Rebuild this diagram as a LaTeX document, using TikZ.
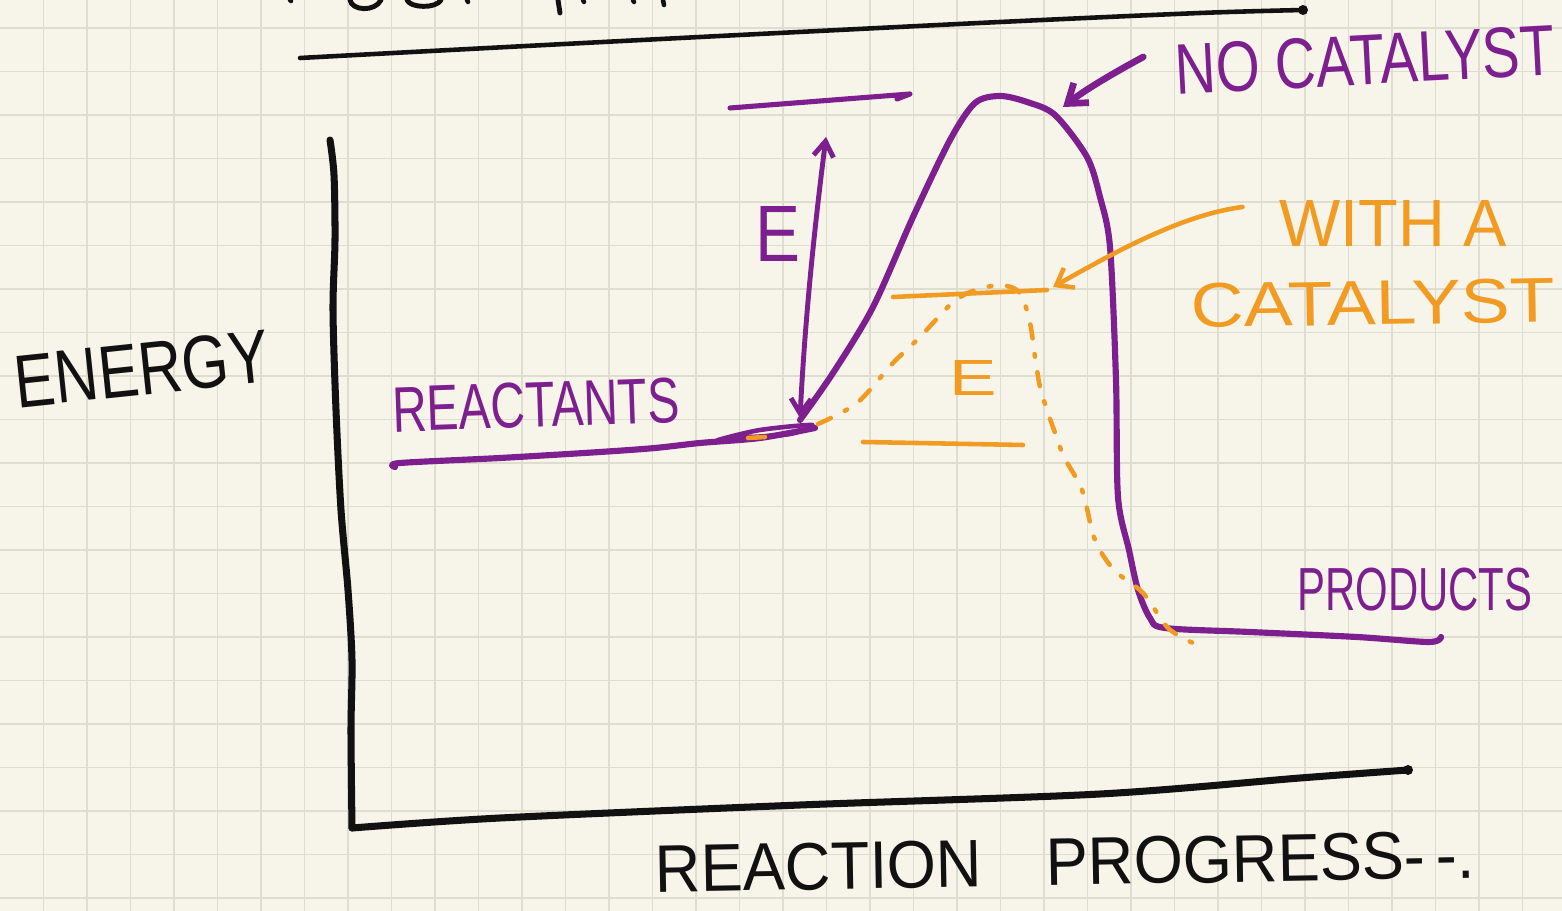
\documentclass[tikz,border=0pt]{standalone}
\usepackage{fontspec}
\setsansfont{Liberation Sans}
\usetikzlibrary{arrows.meta, positioning}
\definecolor{paper}{HTML}{F7F5E9}
\definecolor{gridline}{HTML}{DFDCD0}
\definecolor{ink}{HTML}{111111}
\definecolor{plum}{HTML}{7D1F8E}
\definecolor{amber}{HTML}{F29B22}
% hand lettering squeezed into the box the sketch gives it
\newcommand{\hand}[3]{\resizebox{#1}{#2}{\sffamily #3}}

\begin{document}
\begin{tikzpicture}[
    x=0.02cm, y=-0.02cm,
    lbl/.style={inner sep=0pt, outer sep=0pt},
    axis/.style={line width=4pt, color=ink, line cap=round, line join=round},
    pcurve/.style={line width=3.5pt, color=plum, line cap=round, line join=round},
    ocurve/.style={line width=2.6pt, color=amber, line cap=round, line join=round},
    odash/.style={ocurve, dash pattern=on 8pt off 9pt on 1.5pt off 9pt},
    parr/.style={pcurve, line width=3.8pt, -{Straight Barb[length=3.5mm, width=5mm]}},
    oarr/.style={ocurve, -{Straight Barb[length=3mm, width=4.5mm]}},
    ebar/.style={pcurve, line width=2.8pt, {Straight Barb[length=3mm, width=4mm]}-{Straight Barb[length=3mm, width=4mm]}}
]
    % paper
    \fill[paper] (0,0) rectangle (1562,911);
    \useasboundingbox (0,0) rectangle (1562,911);
    \foreach \gx in {43.5,87,...,1560}
        \draw[gridline, line width=0.6pt] (\gx,0) -- (\gx,911);
    \foreach \gy in {28,71.5,...,911}
        \draw[gridline, line width=0.6pt] (0,\gy) -- (1562,\gy);

    % title cut off at the top edge
    \draw[axis, line width=2.8pt] (350,0) .. controls (352,11) and (375,12) .. (381,0);
    \draw[axis, line width=2.8pt] (407,0) .. controls (410,8) and (436,9) .. (441,0);
    \draw[axis, line width=2.8pt] (558,0) -- (560,13);
    \foreach \dx/\dy in {290/1, 467/2, 583/2, 633/2, 663/5}
        \draw[axis, line width=2.6pt] (\dx,0) -- (\dx+1,\dy);
    \draw[axis, line width=2.6pt] plot[smooth] coordinates
        {(300,58) (450,50) (700,37) (1000,22) (1200,13) (1303,10)};
    \fill[ink] (1303,10) circle (5);

    % axes
    \draw[axis] plot[smooth] coordinates
        {(330,140) (334,175) (335,240) (333,310) (336,410) (341,510)
         (348,590) (352,660) (351,730) (352,828)};
    \draw[axis] plot[smooth] coordinates
        {(352,828) (500,818) (800,805) (1100,794) (1300,778) (1408,770)};
    \fill[ink] (1408,770) circle (5);

    \node[lbl, text=ink, rotate=6] (energy) at (142,369)
        {\hand{5.1cm}{1.05cm}{ENERGY}};
    \node[lbl, text=ink, rotate=1] (progress) at (1065,862)
        {\hand{16.4cm}{0.94cm}{REACTION\quad PROGRESS-\,-.}};

    % reactants and the uncatalysed hump
    \draw[pcurve] plot[smooth] coordinates
        {(395,467) (400,463) (500,458) (600,452) (655,448) (700,443)
         (760,438) (815,428)};
    \draw[pcurve, line width=2.6pt] plot[smooth cycle] coordinates
        {(718,440) (760,430) (812,425) (790,434) (735,438)};
    \draw[pcurve] plot[smooth] coordinates
        {(800,420) (833,373) (873,307) (913,217) (950,140) (975,103)
         (1000,96) (1027,102) (1055,115) (1087,157) (1100,197) (1110,247)
         (1116,380) (1118,497) (1129,550) (1138,590) (1150,618) (1165,628)
         (1250,632) (1357,637) (1429,642) (1441,637)};
    \node[lbl, text=plum, rotate=2] (reactants) at (536,405)
        {\hand{5.74cm}{0.9cm}{REACTANTS}};
    \node[lbl, text=plum] (products) at (1415,590)
        {\hand{4.7cm}{0.85cm}{PRODUCTS}};

    % activation energy without catalyst
    \draw[pcurve, line width=2.9pt] (730,108) -- (910,94) -- (897,99);
    \coordinate (ea-top) at (826,137);
    \coordinate (ea-bot) at (800,418);
    \draw[ebar] (ea-bot) .. controls (806,300) and (818,200) .. (ea-top);
    \node[lbl, text=plum] (ea) at (778,234) {\hand{0.9cm}{1.1cm}{E}};

    \node[lbl, text=plum, rotate=3] (nocat) at (1365,60)
        {\hand{7.6cm}{1.0cm}{NO CATALYST}};
    \coordinate (peak) at (1063,107);
    \draw[parr] ([xshift=-0.64cm, yshift=0.26cm]nocat.west)
        .. controls (1110,75) and (1085,90) .. (peak);

    % catalysed path
    \draw[ocurve] (748,438) -- (765,437);
    \draw[odash] plot[smooth] coordinates
        {(818,424) (857,403) (893,363) (920,337) (950,305) (970,292)
         (1000,285) (1020,293) (1030,323) (1035,357) (1040,387) (1047,410)
         (1054,430) (1064,457) (1082,490) (1095,540) (1114,570) (1143,593)
         (1168,628) (1193,643)};
    \draw[ocurve] (893,297) -- (1047,290);
    \draw[ocurve] (863,442) -- (1023,445);
    \node[lbl, text=amber] (ecat) at (973,378) {\hand{0.95cm}{0.7cm}{E}};

    \node[lbl, text=amber] (witha) at (1393,224)
        {\hand{4.54cm}{0.92cm}{WITH A}};
    \node[lbl, text=amber, rotate=1] (catalyst) at (1373,303)
        {\hand{7.26cm}{0.88cm}{CATALYST}};
    \coordinate (cat-top) at (1053,287);
    \draw[oarr] ([xshift=-0.74cm, yshift=0.34cm]witha.west)
        .. controls (1180,215) and (1110,255) .. (cat-top);
\end{tikzpicture}
\end{document}
